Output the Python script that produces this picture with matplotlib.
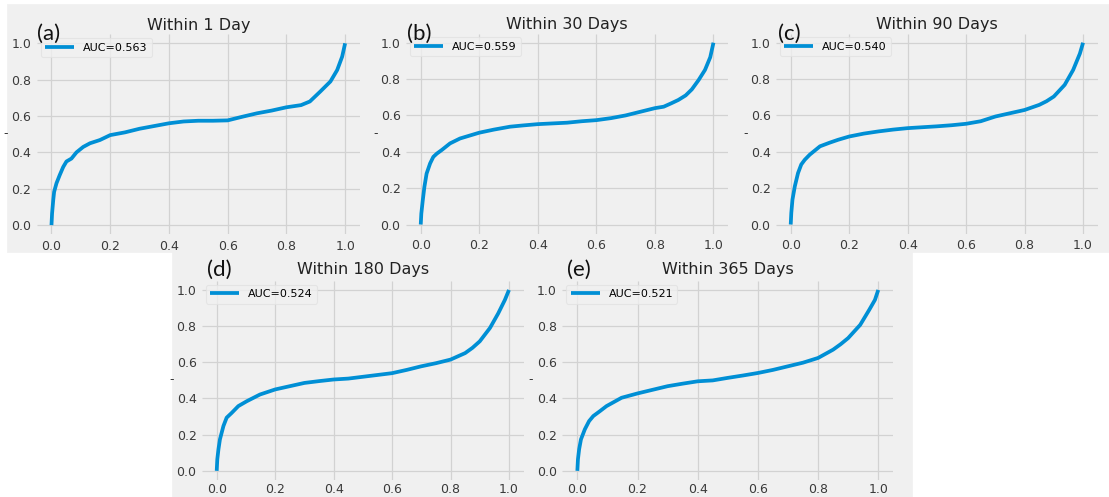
import matplotlib.pyplot as plt
from matplotlib.patches import Rectangle

# ROC curves (false positive rate, true positive rate)
titles = ["Within 1 Day", "Within 30 Days", "Within 90 Days",
          "Within 180 Days", "Within 365 Days"]
tags = ["(a)", "(b)", "(c)", "(d)", "(e)"]
aucs = [0.563, 0.559, 0.540, 0.524, 0.521]

fpr_a = [0, .002, .006, .009, .017, .028, .04, .051, .068, .085, .108, .131, .165,
         .2, .25, .3, .35, .4, .45, .5, .55, .6, .65, .7, .75, .8, .85, .88, .915,
         .95, .973, .99, 1]
tpr_a = [0, .064, .138, .183, .23, .275, .32, .35, .366, .40, .43, .45, .468,
         .495, .51, .53, .545, .56, .57, .574, .574, .576, .596, .615, .63, .648,
         .66, .68, .734, .79, .853, .927, 1]

fpr_b = [0, .002, .007, .0125, .02, .032, .043, .055, .072, .10, .134, .169, .2,
         .25, .305, .35, .4, .45, .5, .55, .6, .65, .7, .75, .8, .83, .855, .88,
         .905, .926, .949, .971, .989, 1]
tpr_b = [0, .06, .134, .207, .28, .336, .372, .39, .41, .446, .473, .49, .505,
         .522, .538, .545, .552, .556, .56, .568, .574, .585, .60, .62, .64, .648,
         .666, .685, .71, .743, .794, .85, .92, 1]

fpr_c = [0, .002, .006, .014, .025, .036, .048, .065, .1, .133, .162, .2, .25,
         .3, .35, .4, .45, .5, .55, .6, .65, .7, .75, .8, .85, .875, .9, .937,
         .966, .989, 1]
tpr_c = [0, .064, .137, .21, .283, .33, .356, .384, .43, .45, .466, .484, .5,
         .512, .522, .53, .535, .54, .546, .554, .568, .594, .612, .63, .658,
         .678, .704, .768, .85, .94, 1]

fpr_d = [0, .002, .006, .011, .023, .034, .051, .074, .103, .148, .2, .25, .3,
         .35, .4, .45, .5, .55, .6, .65, .7, .75, .8, .85, .875, .9, .935, .963,
         .986, 1]
tpr_d = [0, .064, .12, .174, .248, .294, .32, .358, .385, .422, .45, .468, .486,
         .496, .505, .51, .52, .53, .54, .558, .578, .595, .615, .651, .68, .716,
         .79, .87, .945, 1]

fpr_e = [0, .002, .006, .012, .025, .039, .053, .075, .097, .147, .2, .25, .3,
         .35, .4, .45, .5, .55, .6, .65, .7, .75, .8, .85, .875, .9, .94, .97,
         .989, 1]
tpr_e = [0, .064, .12, .174, .23, .275, .303, .33, .358, .404, .428, .448, .468,
         .482, .495, .5, .514, .527, .541, .558, .578, .598, .624, .67, .7, .734,
         .807, .89, .945, 1]

curves = [(fpr_a, tpr_a), (fpr_b, tpr_b), (fpr_c, tpr_c),
          (fpr_d, tpr_d), (fpr_e, tpr_e)]

W, H = 1109, 497
# axes boxes in pixels: left, top, width, height
boxes = [(36.8, 34.2, 323, 200), (406.1, 33.6, 322, 200), (776.1, 33.6, 321.6, 200),
         (202.1, 280.9, 321.5, 199), (562.3, 280.9, 331, 199)]
# panel tag positions in pixels (left, vertical centre)
tag_pos = [(37, 33.5), (407, 33.5), (778, 33.5), (207, 270), (567, 270)]
title_pad = [3, 3, 3, 5, 5]
xtick_pad = [4, 4, 4, 2, 2]

plt.style.use("fivethirtyeight")
fig = plt.figure(figsize=(W / 100, H / 100), dpi=100, facecolor="white")

bg = "#f0f0f0"
fig.patches.append(Rectangle((7 / W, 1 - 252 / H), 1 - 7 / W, (252 - 4) / H,
                             transform=fig.transFigure, color=bg, zorder=-5))
fig.patches.append(Rectangle((172 / W, 0), (912 - 172) / W, 1 - 251 / H,
                             transform=fig.transFigure, color=bg, zorder=-5))

for i, (l, t, w, h) in enumerate(boxes):
    ax = fig.add_axes([l / W, 1 - (t + h) / H, w / W, h / H])
    ax.set_facecolor(bg)
    fpr, tpr = curves[i]
    ax.plot(fpr, tpr, color="#008fd5", lw=2.7, solid_joinstyle="round",
            label=f"AUC={aucs[i]:.3f}")
    ax.set_xlim(-0.05, 1.05)
    ax.set_ylim(-0.05, 1.05)
    ax.set_xticks([0, 0.2, 0.4, 0.6, 0.8, 1.0])
    ax.set_yticks([0, 0.2, 0.4, 0.6, 0.8, 1.0])
    ax.tick_params(labelsize=9, colors="#3a3a3a", length=0, pad=4)
    ax.tick_params(axis="x", pad=xtick_pad[i])
    ax.grid(color="#d2d2d2", lw=0.9)
    for s in ax.spines.values():
        s.set_visible(False)
    ax.set_title(titles[i], fontsize=11.5, color="#222222", pad=title_pad[i])
    ax.set_ylabel("-", fontsize=9, rotation=0, color="#333333")
    ax.yaxis.set_label_coords(-0.095, 0.47)
    leg = ax.legend(loc="upper left", fontsize=8, handlelength=2.6,
                    borderaxespad=0.35, frameon=True)
    leg.get_frame().set_facecolor(bg)
    leg.get_frame().set_edgecolor("#e2e2e2")
    leg.get_frame().set_linewidth(0.8)
    tx, ty = tag_pos[i]
    fig.text(tx / W, 1 - ty / H, tags[i], fontsize=16, family="Lato",
             ha="left", va="center", color="#111111")

fig.savefig("out.png", dpi=100, facecolor=fig.get_facecolor())
